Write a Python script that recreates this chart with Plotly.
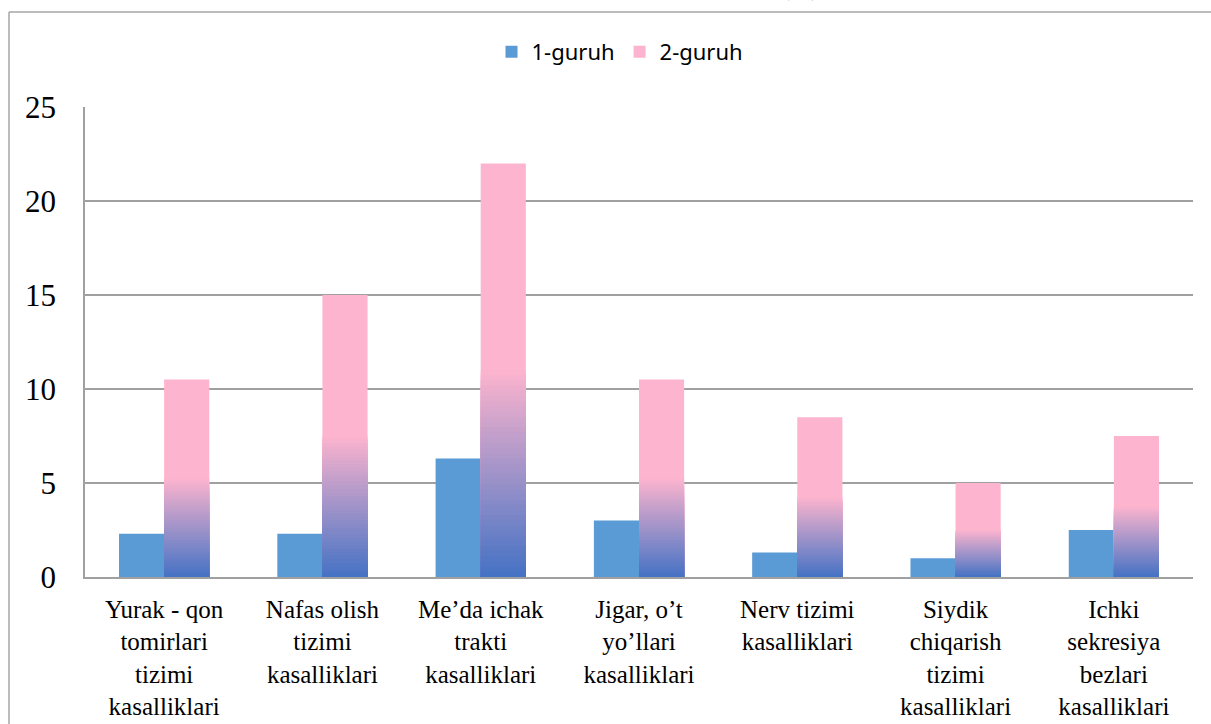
import plotly.graph_objects as go

categories = [
    "Yurak - qon<br>tomirlari<br>tizimi<br>kasalliklari",
    "Nafas olish<br>tizimi<br>kasalliklari",
    "Me’da ichak<br>trakti<br>kasalliklari",
    "Jigar, o’t<br>yo’llari<br>kasalliklari",
    "Nerv tizimi<br>kasalliklari",
    "Siydik<br>chiqarish<br>tizimi<br>kasalliklari",
    "Ichki<br>sekresiya<br>bezlari<br>kasalliklari",
]
group1 = [2.3, 2.3, 6.3, 3.0, 1.3, 1.0, 2.5]
group2 = [10.5, 15.0, 22.0, 10.5, 8.5, 5.0, 7.5]
series_names = ["1-guruh", "2-guruh"]
y_ticks = [0, 5, 10, 15, 20, 25]

W, H = 1211, 724
L, R, T, B = 85, 1193, 107, 577
BW = 0.285

BLUE1 = "#5B9BD5"
PINK = (253, 180, 206)
BLUE2 = (68, 114, 196)

fig = go.Figure()

fig.add_trace(go.Bar(
    x=categories, y=group1, name=series_names[0],
    marker=dict(color=BLUE1, line=dict(width=0)),
    width=BW, offset=-BW, legendrank=1,
))

# full pink bar for 2-guruh
fig.add_trace(go.Bar(
    x=categories, y=group2, name=series_names[1],
    marker=dict(color="rgb(%d,%d,%d)" % PINK, line=dict(width=0)),
    width=BW, offset=0, legendrank=2,
))

# gradient in the lower half: overlapping bars, each shorter and bluer
N = 40
frac = 0.5
for k in range(N):
    lvl = (N - k) / N
    t = (N - k - 0.5) / N
    c = tuple(round(BLUE2[i] + (PINK[i] - BLUE2[i]) * t) for i in range(3))
    col = "rgb(%d,%d,%d)" % c
    fig.add_trace(go.Bar(
        x=categories,
        y=[v * frac * lvl for v in group2],
        marker=dict(color=col, line=dict(width=0)),
        width=BW, offset=0, showlegend=False, hoverinfo="skip",
    ))

pw, ph = R - L, B - T
def px(x):
    return (x - L) / pw
def py(y):
    return (B - y) / ph

fig.update_layout(
    width=W, height=H,
    margin=dict(l=L, r=W - R, t=T, b=H - B, autoexpand=False),
    barmode="overlay",
    plot_bgcolor="white", paper_bgcolor="white",
    showlegend=True,
    legend=dict(orientation="h", x=px(620), y=py(52), xanchor="center", yanchor="middle",
                font=dict(family="Noto Sans", size=22, color="black"),
                traceorder="normal"),
    xaxis=dict(showline=True, linecolor="#A0A0A0", linewidth=1.5, showgrid=False, automargin=False,
               ticks="", tickfont=dict(family="Liberation Serif", size=25, color="black"),
               ticklabelstandoff=9),
    yaxis=dict(range=[0, 25], tickvals=y_ticks, showgrid=True, gridcolor="#A0A0A0", gridwidth=1.5,
               showline=True, linecolor="#A0A0A0", linewidth=1.5, zeroline=False, automargin=False,
               ticks="", tickfont=dict(family="Liberation Serif", size=31, color="black"),
               ticklabelstandoff=21),
    shapes=[
        dict(type="line", xref="paper", yref="paper", x0=px(9), x1=px(W + 5), y0=py(12), y1=py(12),
             line=dict(color="#A6A6A6", width=1.5)),
        dict(type="line", xref="paper", yref="paper", x0=px(9), x1=px(9), y0=py(12), y1=py(H + 5),
             line=dict(color="#A6A6A6", width=1.5)),
    ],
    annotations=[
        dict(text="(%)", xref="paper", yref="paper", x=px(800), y=py(3), xanchor="center",
             yanchor="bottom", showarrow=False,
             font=dict(family="Liberation Serif", size=26, color="black")),
    ],
)

fig.write_html("out.html", config={"displayModeBar": False},
               post_script="document.body.style.margin='0';document.body.style.overflow='hidden';")
